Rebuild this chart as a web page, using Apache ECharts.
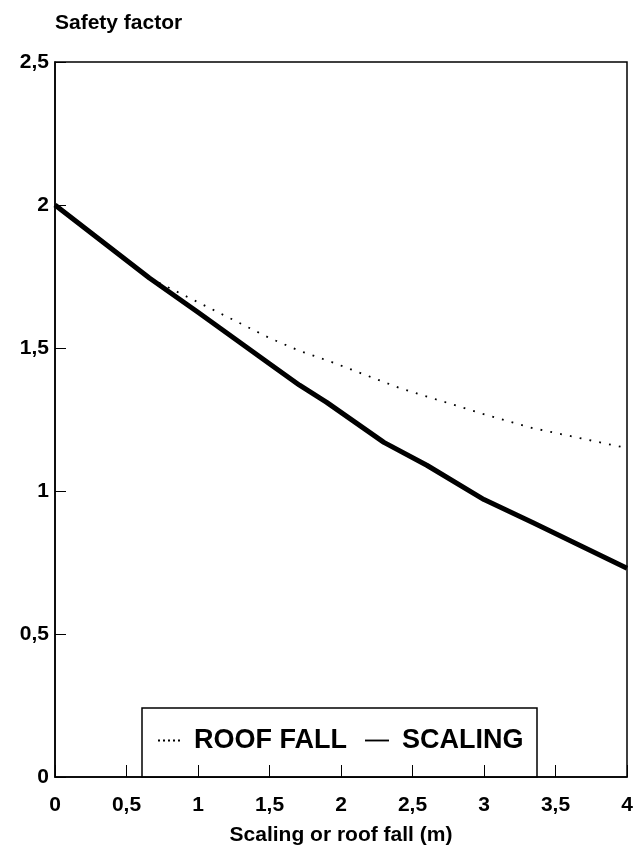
<!DOCTYPE html>
<html>
<head>
<meta charset="utf-8">
<script src="https://cdn.jsdelivr.net/npm/echarts@6/dist/echarts.min.js"></script>
<style>
  html, body { margin: 0; padding: 0; background: #fff; }
  #chart { width: 641px; height: 846px; }
</style>
</head>
<body>
<div id="chart"></div>
<script>
// values (x in metres)
const roofFallX = [0, 0.66, 1, 1.5, 1.71, 1.94, 2.41, 2.99, 3.34, 4]
const roofFallY = [2.0, 1.745, 1.66, 1.535, 1.49, 1.45, 1.36, 1.27, 1.22, 1.15]
const scalingX = [0, 0.66, 1, 1.5, 1.71, 1.9, 2.1, 2.3, 2.6, 3, 3.34, 4]
const scalingY = [2.0, 1.745, 1.625, 1.445, 1.37, 1.31, 1.24, 1.17, 1.09, 0.97, 0.89, 0.73]

const FONT = '"Liberation Sans", Arial, sans-serif'
const comma = v => String(v).replace('.', ',')
const pairs = (xs, ys) => xs.map((x, i) => [x, ys[i]])

// legend sample icons
const DOTS = 'path://M0,0h2v2h-2z M5,0h2v2h-2z M10,0h2v2h-2z M15,0h2v2h-2z M20,0h2v2h-2z'
const BAR = 'path://M0,0h26v2h-26z'

const chart = echarts.init(document.getElementById('chart'))

chart.setOption({
  animation: false,
  backgroundColor: '#fff',
  textStyle: { fontFamily: FONT, color: '#000' },
  title: {
    text: 'Safety factor',
    left: 50,
    top: 8,
    textStyle: { fontFamily: FONT, fontWeight: 'bold', fontSize: 21, color: '#000' }
  },
  grid: {
    left: 55,
    right: 14,
    top: 62,
    bottom: 69,
    outerBoundsMode: 'none',
    show: true,
    borderColor: '#000',
    borderWidth: 1.5
  },
  graphic: [
    {
      type: 'rect',
      z: 1,
      shape: { x: 142, y: 708, width: 395, height: 69 },
      style: { fill: '#fff', stroke: '#000', lineWidth: 1.5 }
    }
  ],
  xAxis: {
    type: 'value',
    min: 0,
    max: 4,
    interval: 0.5,
    z: 5,
    name: 'Scaling or roof fall (m)',
    nameLocation: 'middle',
    nameGap: 48,
    nameTextStyle: { fontFamily: FONT, fontWeight: 'bold', fontSize: 21, color: '#000' },
    axisLine: { lineStyle: { color: '#000', width: 1.5 } },
    axisTick: { inside: true, length: 12, lineStyle: { color: '#000', width: 1 } },
    axisLabel: {
      formatter: comma,
      margin: 18,
      fontFamily: FONT,
      fontWeight: 'bold',
      fontSize: 21,
      color: '#000'
    },
    splitLine: { show: false }
  },
  yAxis: {
    type: 'value',
    min: 0,
    max: 2.5,
    interval: 0.5,
    axisLine: { show: true, lineStyle: { color: '#000', width: 1.5 } },
    axisTick: { show: true, inside: true, length: 11, lineStyle: { color: '#000', width: 1 } },
    axisLabel: {
      formatter: comma,
      margin: 6,
      fontFamily: FONT,
      fontWeight: 'bold',
      fontSize: 21,
      color: '#000'
    },
    splitLine: { show: false }
  },
  legend: {
    left: 158,
    top: 727,
    padding: 0,
    itemGap: 18,
    itemWidth: 24,
    itemHeight: 2,
    z: 6,
    textStyle: {
      fontFamily: FONT,
      fontWeight: 'bold',
      fontSize: 27,
      color: '#000',
      padding: [0, 0, 0, 8]
    },
    data: [
      { name: 'ROOF FALL', icon: DOTS },
      { name: 'SCALING', icon: BAR }
    ]
  },
  series: [
    {
      name: 'ROOF FALL',
      type: 'line',
      data: pairs(roofFallX, roofFallY),
      symbol: 'none',
      z: 2,
      lineStyle: { color: '#000', width: 1.8, type: [1.8, 8.2] },
      itemStyle: { color: '#000' }
    },
    {
      name: 'SCALING',
      type: 'line',
      data: pairs(scalingX, scalingY),
      symbol: 'none',
      z: 3,
      lineStyle: { color: '#000', width: 5, join: 'round' },
      itemStyle: { color: '#000' }
    }
  ]
})
</script>
</body>
</html>
